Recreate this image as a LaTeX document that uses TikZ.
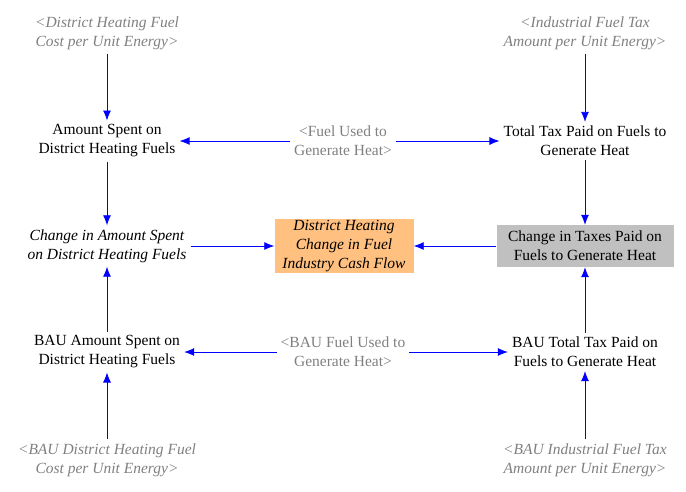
\documentclass[tikz,border=0pt]{standalone}
\usepackage{fontspec}
\setmainfont{Liberation Serif}
\usetikzlibrary{arrows.meta}
\definecolor{shadow}{RGB}{128,128,128}
\definecolor{flowbox}{RGB}{255,192,128}
\definecolor{taxbox}{RGB}{192,192,192}

\begin{document}
\begin{tikzpicture}[x=1pt, y=-1pt,
        var/.style={align=center, inner sep=4pt, font=\rmfamily\fontsize{15.5}{19}\selectfont},
        ghost/.style={var, text=shadow, font=\rmfamily\fontsize{15.5}{19}\selectfont\itshape},
        link/.style={draw=blue, thick, -{Latex[length=10pt, width=8pt]}}]
        \useasboundingbox (0,0) rectangle (686,491);
        % shadow variables
        \node[ghost] (dhcost) at (107,33) {<District Heating Fuel\\Cost per Unit Energy>};
        \node[ghost] (taxrate) at (585,33) {<Industrial Fuel Tax\\Amount per Unit Energy>};
        \node[var, text=shadow] (fuel) at (343,141) {<Fuel Used to\\Generate Heat>};
        \node[var, text=shadow] (baufuel) at (343,352) {<BAU Fuel Used to\\Generate Heat>};
        \node[ghost] (baudhcost) at (107,460) {<BAU District Heating Fuel\\Cost per Unit Energy>};
        \node[ghost] (bautaxrate) at (585,460) {<BAU Industrial Fuel Tax\\Amount per Unit Energy>};
        % model variables
        \node[var] (spent) at (107,141) {Amount Spent on\\District Heating Fuels};
        \node[var] (tax) at (585,141) {Total Tax Paid on Fuels to\\Generate Heat};
        \node[var, font=\rmfamily\fontsize{15.5}{19}\selectfont\itshape] (dspent) at (107,246) {Change in Amount Spent\\on District Heating Fuels};
        \node[var, font=\rmfamily\fontsize{15.5}{19}\selectfont\itshape, fill=flowbox, minimum width=139pt, minimum height=54pt, inner sep=1pt] (cash) at (344,246) {District Heating\\Change in Fuel\\Industry Cash Flow};
        \node[var, fill=taxbox, minimum width=177pt, minimum height=42pt, inner sep=1pt] (dtax) at (585,246) {Change in Taxes Paid on\\Fuels to Generate Heat};
        \node[var] (bauspent) at (107,352) {BAU Amount Spent on\\District Heating Fuels};
        \node[var] (bautax) at (585,352) {BAU Total Tax Paid on\\Fuels to Generate Heat};
        % links
        \draw[link] (dhcost) -- (spent);
        \draw[link] (taxrate) -- (tax);
        \draw[link] (fuel) -- (spent);
        \draw[link] (fuel) -- (tax);
        \draw[link] (spent) -- (dspent);
        \draw[link] (tax) -- (dtax);
        \draw[link] (dspent) -- (cash);
        \draw[link] (dtax) -- (cash);
        \draw[link] (bauspent) -- (dspent);
        \draw[link] (bautax) -- (dtax);
        \draw[link] (baufuel) -- (bauspent);
        \draw[link] (baufuel) -- (bautax);
        \draw[link] (baudhcost) -- (bauspent);
        \draw[link] (bautaxrate) -- (bautax);
\end{tikzpicture}
\end{document}
